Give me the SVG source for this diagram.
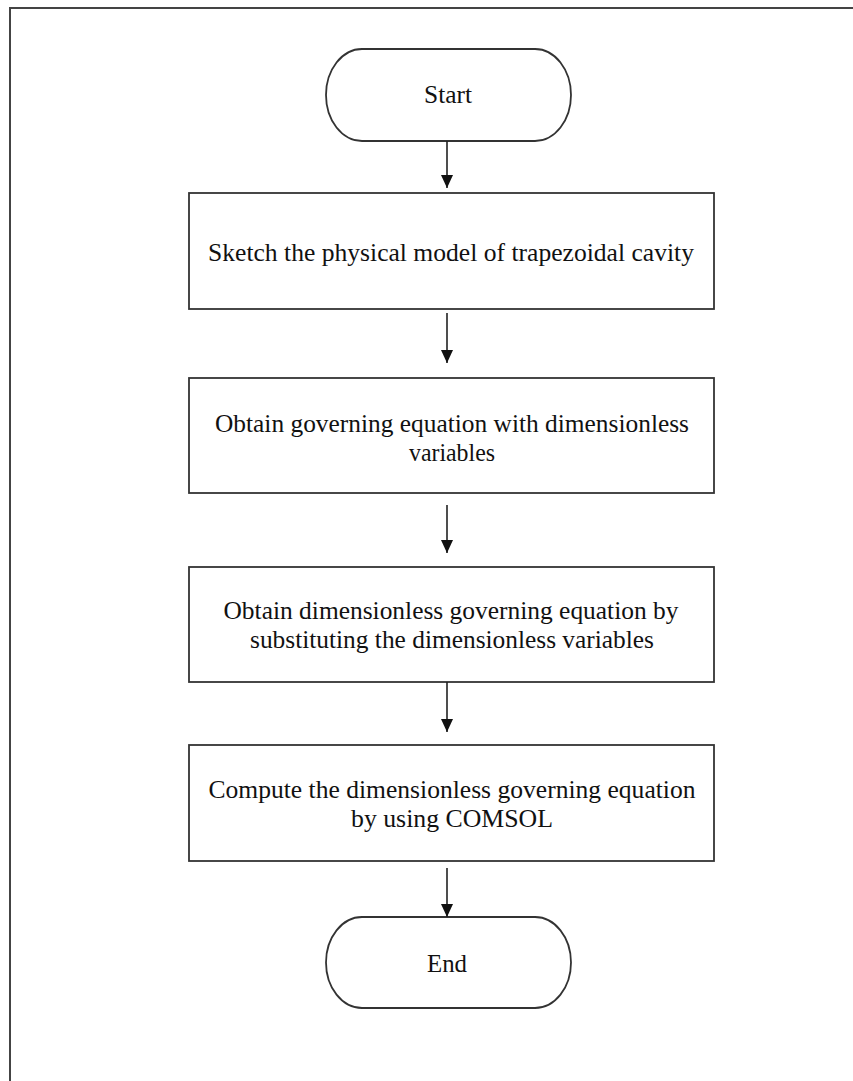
<svg xmlns="http://www.w3.org/2000/svg" width="853" height="1081" viewBox="0 0 853 1081">
<style>
.frame{fill:none;stroke:#444;stroke-width:2}
.box{fill:#fff;stroke:#333;stroke-width:1.8}
.t{font-family:"Liberation Serif","Times New Roman",serif;font-size:24.5px;fill:#111;text-anchor:middle}
.conn{stroke:#222;stroke-width:1.6;fill:none}
</style>
<defs>
<marker id="ah" markerUnits="userSpaceOnUse" markerWidth="13" markerHeight="12" viewBox="0 0 13 12" refX="13" refY="6" orient="auto">
<path d="M0,0 L13,6 L0,12 Z" fill="#111"/>
</marker>
</defs>
<rect width="853" height="1081" fill="#fff"/>
<path class="frame" d="M10,1081 V8 H853"/>
<g id="start">
<rect class="box" x="326" y="49" width="245" height="92" rx="36" ry="46"/>
<text class="t" x="448" y="103" textLength="48" lengthAdjust="spacingAndGlyphs">Start</text>
</g>
<g id="sketch">
<rect class="box" x="189" y="193" width="525" height="116"/>
<text class="t" x="451" y="261" textLength="486" lengthAdjust="spacingAndGlyphs">Sketch the physical model of trapezoidal cavity</text>
</g>
<g id="obtain-governing">
<rect class="box" x="189" y="378" width="525" height="115"/>
<text class="t" x="452" y="432" textLength="474" lengthAdjust="spacingAndGlyphs">Obtain governing equation with dimensionless</text>
<text class="t" x="452" y="461" textLength="86" lengthAdjust="spacingAndGlyphs">variables</text>
</g>
<g id="obtain-dimensionless">
<rect class="box" x="189" y="567" width="525" height="115"/>
<text class="t" x="451" y="619" textLength="455" lengthAdjust="spacingAndGlyphs">Obtain dimensionless governing equation by</text>
<text class="t" x="452" y="648" textLength="404" lengthAdjust="spacingAndGlyphs">substituting the dimensionless variables</text>
</g>
<g id="compute">
<rect class="box" x="189" y="745" width="525" height="116"/>
<text class="t" x="452" y="798" textLength="487" lengthAdjust="spacingAndGlyphs">Compute the dimensionless governing equation</text>
<text class="t" x="452" y="827" textLength="202" lengthAdjust="spacingAndGlyphs">by using COMSOL</text>
</g>
<g id="end">
<rect class="box" x="326" y="917" width="245" height="91" rx="36" ry="45.5"/>
<text class="t" x="447" y="972" textLength="40" lengthAdjust="spacingAndGlyphs">End</text>
</g>
<g id="connectors">
<line class="conn" x1="447" y1="141" x2="447" y2="188" marker-end="url(#ah)"/>
<line class="conn" x1="447" y1="313" x2="447" y2="363" marker-end="url(#ah)"/>
<line class="conn" x1="447" y1="505" x2="447" y2="553" marker-end="url(#ah)"/>
<line class="conn" x1="447" y1="682" x2="447" y2="732" marker-end="url(#ah)"/>
<line class="conn" x1="447" y1="868" x2="447" y2="917" marker-end="url(#ah)"/>
</g>
</svg>
